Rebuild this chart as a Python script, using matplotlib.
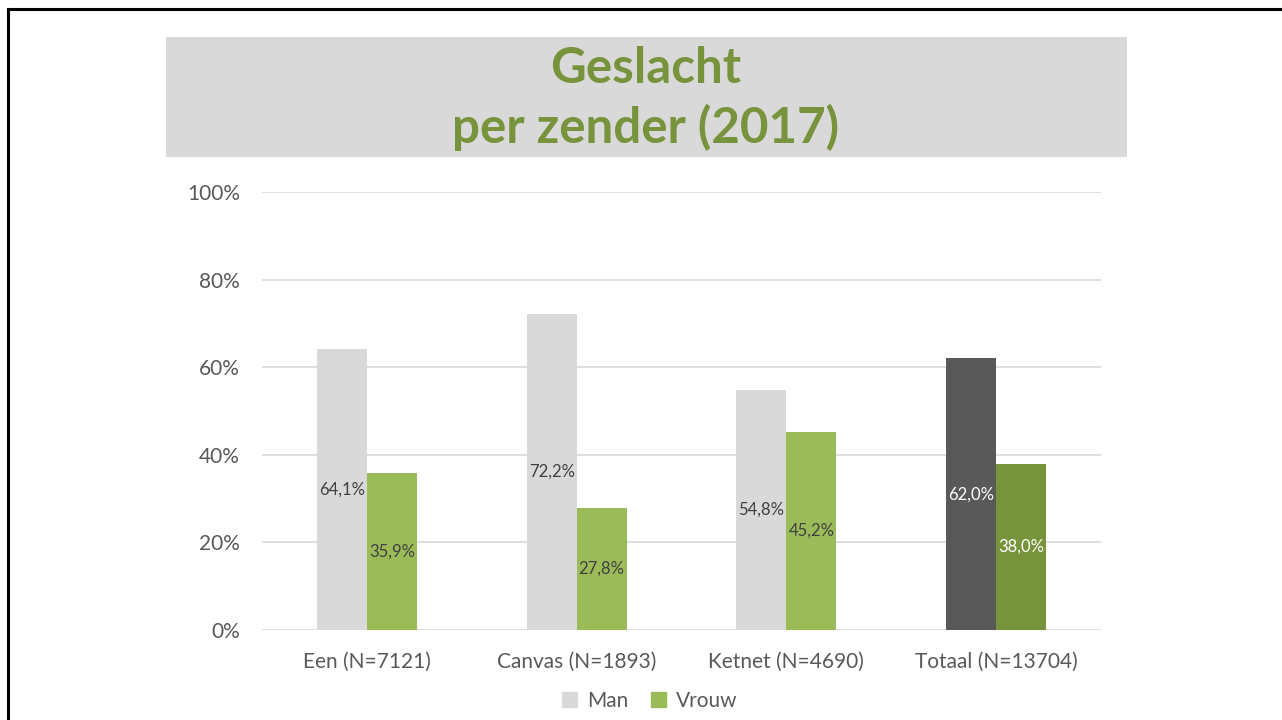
import matplotlib.pyplot as plt
import numpy as np
from matplotlib.patches import Rectangle
from matplotlib.lines import Line2D

categories = ["Een (N=7121)", "Canvas (N=1893)", "Ketnet (N=4690)", "Totaal (N=13704)"]
man = [64.1, 72.2, 54.8, 62.0]
vrouw = [35.9, 27.8, 45.2, 38.0]
man_labels = ["64,1%", "72,2%", "54,8%", "62,0%"]
vrouw_labels = ["35,9%", "27,8%", "45,2%", "38,0%"]
yticks = [0, 20, 40, 60, 80, 100]

plt.rcParams['font.family'] = ['Lato', 'DejaVu Sans']

W, H = 1282, 720
fig = plt.figure(figsize=(W / 100, H / 100), dpi=100)
fig.patch.set_facecolor('white')

# slide border (left + top only visible)
fig.add_artist(Line2D([7.5 / W, 7.5 / W], [0, 1 - 9 / H], color='black', lw=2.2, transform=fig.transFigure))
fig.add_artist(Line2D([7.5 / W, 1], [1 - 9 / H, 1 - 9 / H], color='black', lw=2.2, transform=fig.transFigure))

# title box
fig.add_artist(Rectangle((166 / W, 1 - 157 / H), (1127 - 166) / W, 120 / H,
                         facecolor='#D9D9D9', edgecolor='none', transform=fig.transFigure))
fig.text(646 / W, 1 - 83 / H, "Geslacht", ha='center', va='baseline',
         fontsize=35.5, fontweight='bold', color='#77933C')
fig.text(646 / W, 1 - 143 / H, "per zender (2017)", ha='center', va='baseline',
         fontsize=35.5, fontweight='bold', color='#77933C')

ax = fig.add_axes([262 / W, 1 - 630 / H, (1101 - 262) / W, (630 - 192) / H])
x = np.arange(len(categories))
bw = 0.238

man_colors = ['#D9D9D9'] * 3 + ['#595959']
vrouw_colors = ['#9BBB59'] * 3 + ['#77933C']
b1 = ax.bar(x - bw / 2, man, bw, color=man_colors, zorder=3)
b2 = ax.bar(x + bw / 2, vrouw, bw, color=vrouw_colors, zorder=3)

for i in range(len(categories)):
    tc = 'white' if i == 3 else '#404040'
    ax.text(x[i] - bw / 2, man[i] / 2, man_labels[i], ha='center', va='center',
            fontsize=12, color=tc, zorder=4)
    ax.text(x[i] + bw / 2, vrouw[i] / 2, vrouw_labels[i], ha='center', va='center',
            fontsize=12, color=tc, zorder=4)

ax.set_xlim(-0.5, 3.5)
ax.set_ylim(0, 100)
ax.set_yticks(yticks)
ax.set_yticklabels([f"{t}%" for t in yticks])
ax.set_xticks(x)
ax.set_xticklabels(categories)
ax.tick_params(axis='y', length=0, pad=16, labelsize=15, labelcolor='#595959')
ax.tick_params(axis='x', length=0, pad=16, labelsize=15, labelcolor='#595959')
ax.grid(axis='y', color='#D9D9D9', lw=1.2, zorder=0)
for s in ax.spines.values():
    s.set_visible(False)
ax.set_facecolor('none')

handles = [Rectangle((0, 0), 1, 1, color='#D9D9D9'), Rectangle((0, 0), 1, 1, color='#9BBB59')]
fig.legend(handles, ["Man", "Vrouw"], loc='center', bbox_to_anchor=(650 / W, 1 - 701 / H),
           ncol=2, frameon=False, fontsize=15, labelcolor='#595959',
           handlelength=0.7, handleheight=0.7, handletextpad=0.5, columnspacing=1.1)

fig.savefig('out.png', dpi=100)
